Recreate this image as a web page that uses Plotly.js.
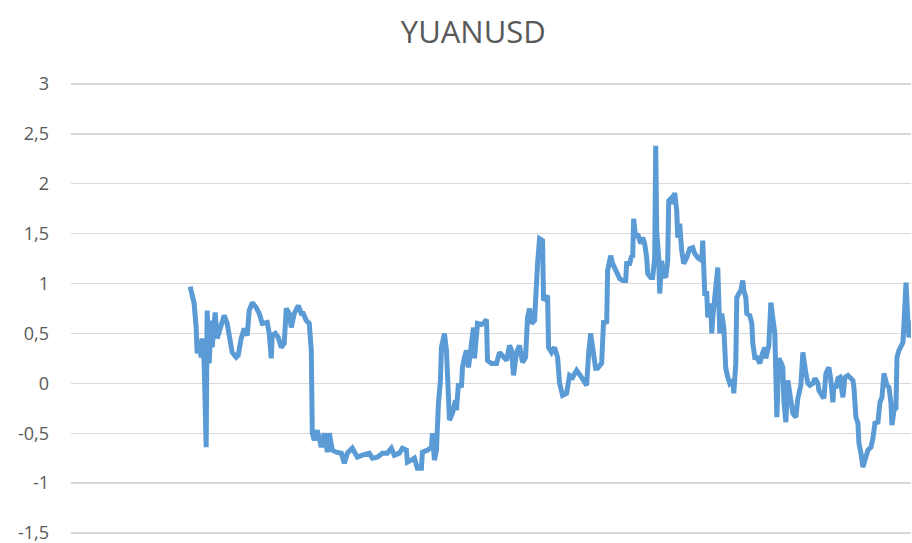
<!DOCTYPE html>
<html>
<head>
<meta charset="utf-8">
<script src="https://cdn.plot.ly/plotly-3.0.1.min.js"></script>
<style>html,body{margin:0;padding:0;background:#fff;}#chart{width:912px;height:543px;}</style>
</head>
<body>
<div id="chart"></div>
<script>
const obs1 = [0,4,6,7,9,11,12,14,16,17,19,21,22,25,27,31,34,37,39,42,46,48,51,54,57,59,62,66,69,72,77,79,81,82,85,88,91,94,96,99,101,104,108,111,113,116,119,120,121,122,124,127,131,134,137];
const val1 = [0.97,0.80,0.56,0.30,0.43,0.26,0.45,0.20,-0.64,0.73,0.20,0.63,0.36,0.71,0.45,0.60,0.68,0.60,0.50,0.31,0.26,0.28,0.45,0.55,0.48,0.73,0.81,0.76,0.70,0.60,0.61,0.50,0.25,0.48,0.50,0.46,0.36,0.40,0.75,0.70,0.56,0.70,0.78,0.70,0.70,0.63,0.60,0.46,0.33,-0.50,-0.57,-0.47,-0.64,-0.50,-0.69];
const obs2 = [139,142,146,151,154,157,162,167,172,179,182,187,192,197,201,204,209,212,216,217,221,224,227,231,232,237,241,242,244,246,248,250,251,254,256,257,259,262,265,266,268,271,272,274,276,278,281,283,284,286];
const val2 = [-0.50,-0.67,-0.69,-0.70,-0.80,-0.70,-0.65,-0.74,-0.72,-0.70,-0.75,-0.74,-0.70,-0.70,-0.65,-0.72,-0.70,-0.65,-0.67,-0.79,-0.77,-0.75,-0.85,-0.85,-0.69,-0.67,-0.64,-0.50,-0.77,-0.67,-0.20,0.03,0.36,0.50,0.33,0.00,-0.37,-0.30,-0.17,-0.27,0.00,-0.04,0.16,0.26,0.33,0.16,0.40,0.56,0.25,0.60];
const obs3 = [287,291,294,296,297,301,306,309,312,316,319,321,323,326,329,332,335,337,339,341,344,346,347,349,352,353,355,357,358,361,364,367,369,372,376,379,382,386,391,396,398,400,402,405,407,411,413,416,417,420,422,426,429];
const val3 = [0.60,0.59,0.61,0.64,0.23,0.20,0.20,0.31,0.28,0.23,0.38,0.33,0.08,0.31,0.38,0.21,0.26,0.66,0.75,0.60,0.63,1.13,1.20,1.45,1.43,0.83,0.86,0.88,0.36,0.31,0.36,0.26,0.00,-0.12,-0.10,0.08,0.06,0.13,0.06,-0.02,0.30,0.50,0.36,0.15,0.15,0.20,0.63,0.60,1.13,1.28,1.20,1.10,1.05];
const obs4 = [432,435,436,439,441,442,443,445,447,450,452,454,456,457,460,462,464,465,466,468,469,471,472,475,477,478,481,483,484,486,487,489,491,493,496,499,502,504,507,511,512,513,514,516,517,520,521,522,525,527,529,531,533,535,537,539,542,543,545,546,548,550,552,553,555,556,559,561,562,564,566,569,572,574];
const val4 = [1.03,1.03,1.20,1.20,1.28,1.26,1.65,1.46,1.50,1.40,1.46,1.40,1.26,1.10,1.06,1.06,1.26,2.38,1.53,1.26,0.90,1.23,1.10,1.06,1.23,1.83,1.86,1.80,1.91,1.73,1.46,1.60,1.33,1.20,1.26,1.35,1.36,1.30,1.26,1.23,1.43,1.20,0.90,0.90,0.66,0.80,0.50,0.66,1.03,1.16,0.50,0.70,0.56,0.15,0.06,0.00,0.03,-0.10,0.20,0.86,0.90,0.93,1.03,0.93,0.86,0.70,0.68,0.60,0.40,0.26,0.26,0.20,0.31,0.36];
const obs5 = [575,577,578,580,582,583,584,586,588,590,592,593,595,597,598,600,602,605,607,608,610,612,613,615,617,619,622,624,627,628,631,633,635,638,640,642,643,645,647,649,652,654,657,659,662,663,665,667,668,670,672,674,677,680,682,684,687,689,691,693,696,698,700,701,703,705,706,708,710,712,713,715,717,718,720];
const val5 = [0.25,0.36,0.38,0.81,0.63,0.63,0.50,-0.34,0.25,0.21,0.16,-0.17,-0.39,0.03,-0.07,-0.17,-0.30,-0.34,-0.15,-0.10,-0.02,0.31,0.21,0.10,0.00,-0.02,0.00,0.05,0.00,-0.07,-0.12,-0.15,0.10,0.16,0.03,-0.19,0.00,-0.05,0.05,0.06,-0.14,0.06,0.08,0.06,0.03,-0.04,-0.34,-0.40,-0.60,-0.70,-0.84,-0.77,-0.67,-0.64,-0.55,-0.40,-0.39,-0.19,-0.14,0.10,-0.02,-0.04,-0.20,-0.42,-0.27,-0.25,0.26,0.33,0.38,0.41,0.60,1.01,0.60,0.46,0.63];

const tickVals = [-1.5,-1,-0.5,0,0.5,1,1.5,2,2.5,3];
const tickText = ["-1,5","-1","-0,5","0","0,5","1","1,5","2","2,5","3"];

const xs = obs1.concat(obs2, obs3, obs4, obs5);
const ys = val1.concat(val2, val3, val4, val5);

const trace = {
  x: xs, y: ys, type: 'scatter', mode: 'lines', name: 'YUANUSD',
  line: {color: '#5B9BD5', width: 5, shape: 'linear'},
  hoverinfo: 'x+y'
};

const layout = {
  width: 912, height: 543,
  margin: {l: 71, r: 1, t: 81, b: 7, pad: 0, autoexpand: false},
  paper_bgcolor: '#ffffff', plot_bgcolor: '#ffffff',
  showlegend: false,
  title: {
    text: 'YUANUSD', xref: 'container', yref: 'container',
    x: 0.519, xanchor: 'center', y: 0.941, yanchor: 'middle',
    font: {family: 'Open Sans, sans-serif', size: 31, color: '#595959'}
  },
  xaxis: {
    range: [-119, 720], showgrid: false, zeroline: false, showline: false,
    showticklabels: false, ticks: ''
  },
  yaxis: {
    range: [-1.53, 3.03], tickvals: tickVals, ticktext: tickText,
    showgrid: true, gridcolor: '#d9d9d9', gridwidth: 1.3, automargin: false,
    zeroline: false, showline: false, ticks: '', ticklabelstandoff: 21,
    ticklabeloverflow: 'allow',
    tickfont: {family: 'Open Sans, sans-serif', size: 18, color: '#595959'}
  }
};

Plotly.newPlot('chart', [trace], layout, {displayModeBar: false, staticPlot: true});
</script>
</body>
</html>
